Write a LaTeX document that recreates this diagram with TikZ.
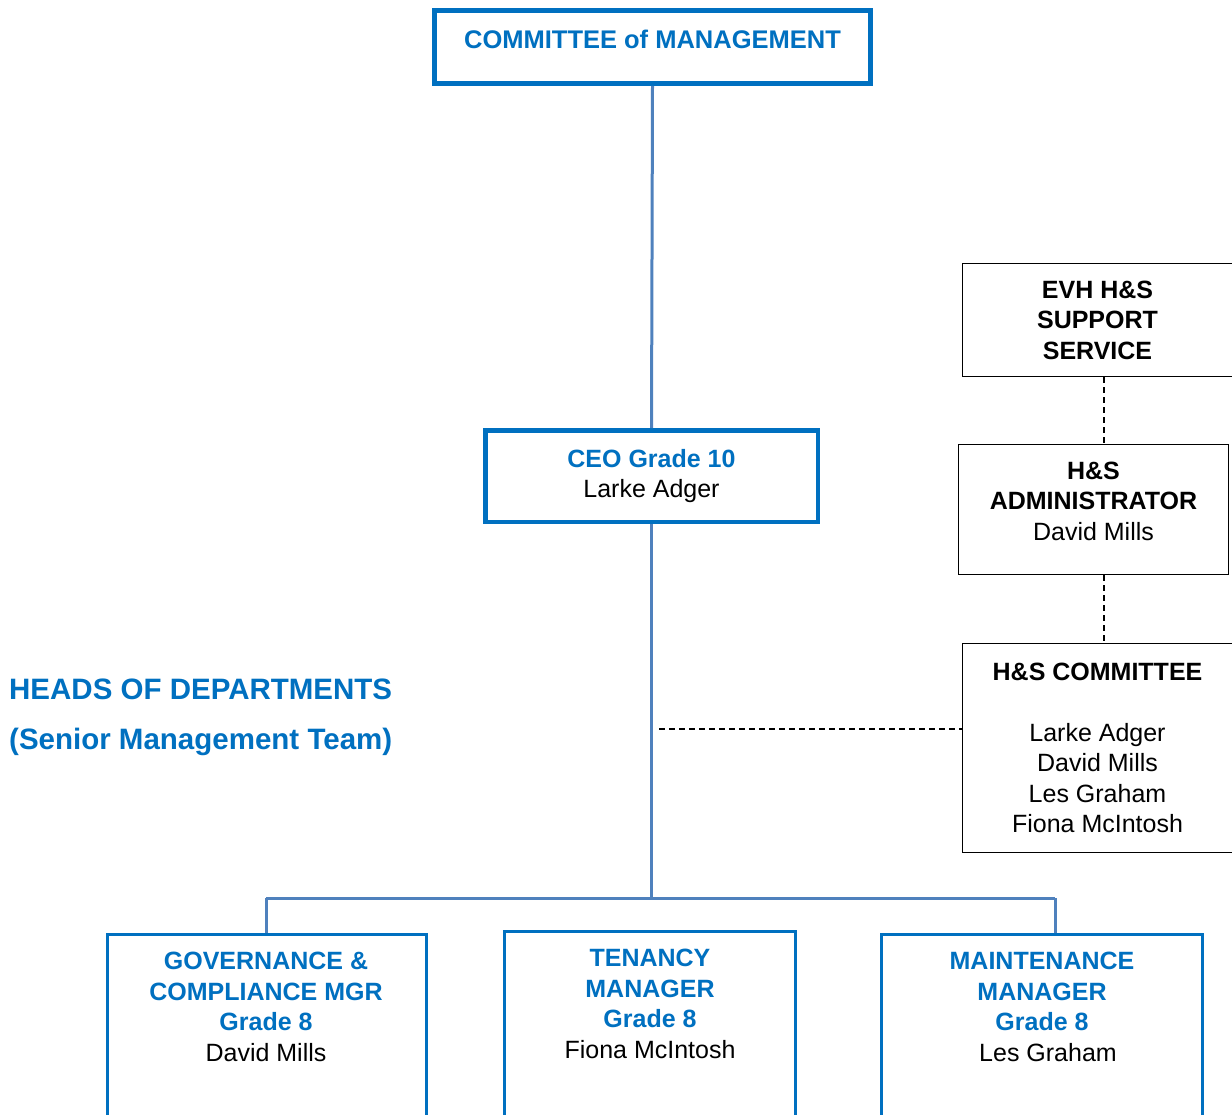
\documentclass[tikz,border=0pt]{standalone}
\usepackage{fontspec}
\setmainfont{Liberation Sans}
\usetikzlibrary{positioning}
\definecolor{evhblue}{HTML}{0070C0}
\definecolor{linkblue}{HTML}{4F81BD}

\tikzset{
  txt/.style = {font=\fontsize{25}{30.5}\selectfont, align=center, inner sep=0pt},
  bluebox/.style = {draw=evhblue, fill=white, line width=#1},
  blackbox/.style = {draw=black, fill=white, line width=1.5pt, txt},
  link/.style = {draw=linkblue, line width=3pt},
  dashlink/.style = {draw=black, line width=1.5pt, dash pattern=on 6pt off 4pt}
}

\begin{document}
\begin{tikzpicture}[x=1pt, y=-1pt]
    \useasboundingbox (0,0) rectangle (1232,1115);
    \clip (0,0) rectangle (1232,1115);

    % top of the tree
    \node [bluebox=5pt, minimum width=436pt, minimum height=73pt] (com) at (652.5,47) {};
    \node [txt, text=evhblue, font=\fontsize{25.5}{30.5}\selectfont\bfseries] (comtxt) at (652.5,39) {COMMITTEE of MANAGEMENT};
    \node [bluebox=4.5pt, txt, minimum width=332.5pt, minimum height=91.5pt] (ceo) at (651.5,476)
        {\textcolor{evhblue}{\textbf{CEO Grade 10}}\\Larke Adger};

    % health and safety side
    \node [blackbox, minimum width=270pt, minimum height=113pt] (evh) at (1097.5,320)
        {\textbf{EVH H\&S}\\\textbf{SUPPORT}\\\textbf{SERVICE}};
    \node [blackbox, minimum width=270pt, minimum height=130pt] (adm) at (1093.5,509.5)
        {\textbf{H\&S}\\\textbf{ADMINISTRATOR}\\David Mills\\[-14pt]\mbox{}};
    \node [blackbox, minimum width=270pt, minimum height=209pt] (hsc) at (1097.5,748)
        {\textbf{H\&S COMMITTEE}\\[30.5pt]Larke Adger\\David Mills\\Les Graham\\Fiona McIntosh};

    \node [txt, align=left, anchor=west, text=evhblue, font=\fontsize{29.5}{50}\selectfont\bfseries] (heads) at (9,717)
        {HEADS OF DEPARTMENTS\\(Senior Management Team)};

    % heads of departments
    \node [bluebox=3.5pt, minimum width=319pt, minimum height=200.5pt] (gov) at (267,1034.75) {};
    \node [bluebox=3.5pt, minimum width=291pt, minimum height=203.5pt] (ten) at (650,1033.25) {};
    \node [bluebox=3.5pt, minimum width=321pt, minimum height=200.5pt] (mnt) at (1042,1034.75) {};
    \node [txt] (govtxt) at (266,1007)
        {\textcolor{evhblue}{\textbf{GOVERNANCE \&}}\\\textcolor{evhblue}{\textbf{COMPLIANCE MGR}}\\\textcolor{evhblue}{\textbf{Grade 8}}\\David Mills};
    \node [txt] (tentxt) at (650,1004)
        {\textcolor{evhblue}{\textbf{TENANCY}}\\\textcolor{evhblue}{\textbf{MANAGER}}\\\textcolor{evhblue}{\textbf{Grade 8}}\\Fiona McIntosh};
    \node [txt] (mnttxt) at (1042,1007)
        {\textcolor{evhblue}{\textbf{MAINTENANCE}}\\\textcolor{evhblue}{\textbf{MANAGER}}\\\textcolor{evhblue}{\textbf{Grade 8}}\\\hspace*{12pt}Les Graham};

    \coordinate (busL) at (266,898);
    \coordinate (busR) at (1055,898);
    \coordinate (dx) at (1104,0);
    \coordinate (dl) at (659,729);

    \draw [link] (com.south) -- (ceo.north);
    \draw [link] (ceo.south) -- (ceo.south |- busL);
    \draw [link] (busL) -- (busR);
    \draw [link] (busL) -- (busL |- gov.north);
    \draw [link] (busR) -- (busR |- mnt.north);

    \draw [dashlink] (evh.south -| dx) -- (adm.north -| dx);
    \draw [dashlink] (adm.south -| dx) -- (hsc.north -| dx);
    \draw [dashlink] (dl) -- (dl -| hsc.west);
  \end{tikzpicture}
\end{document}
